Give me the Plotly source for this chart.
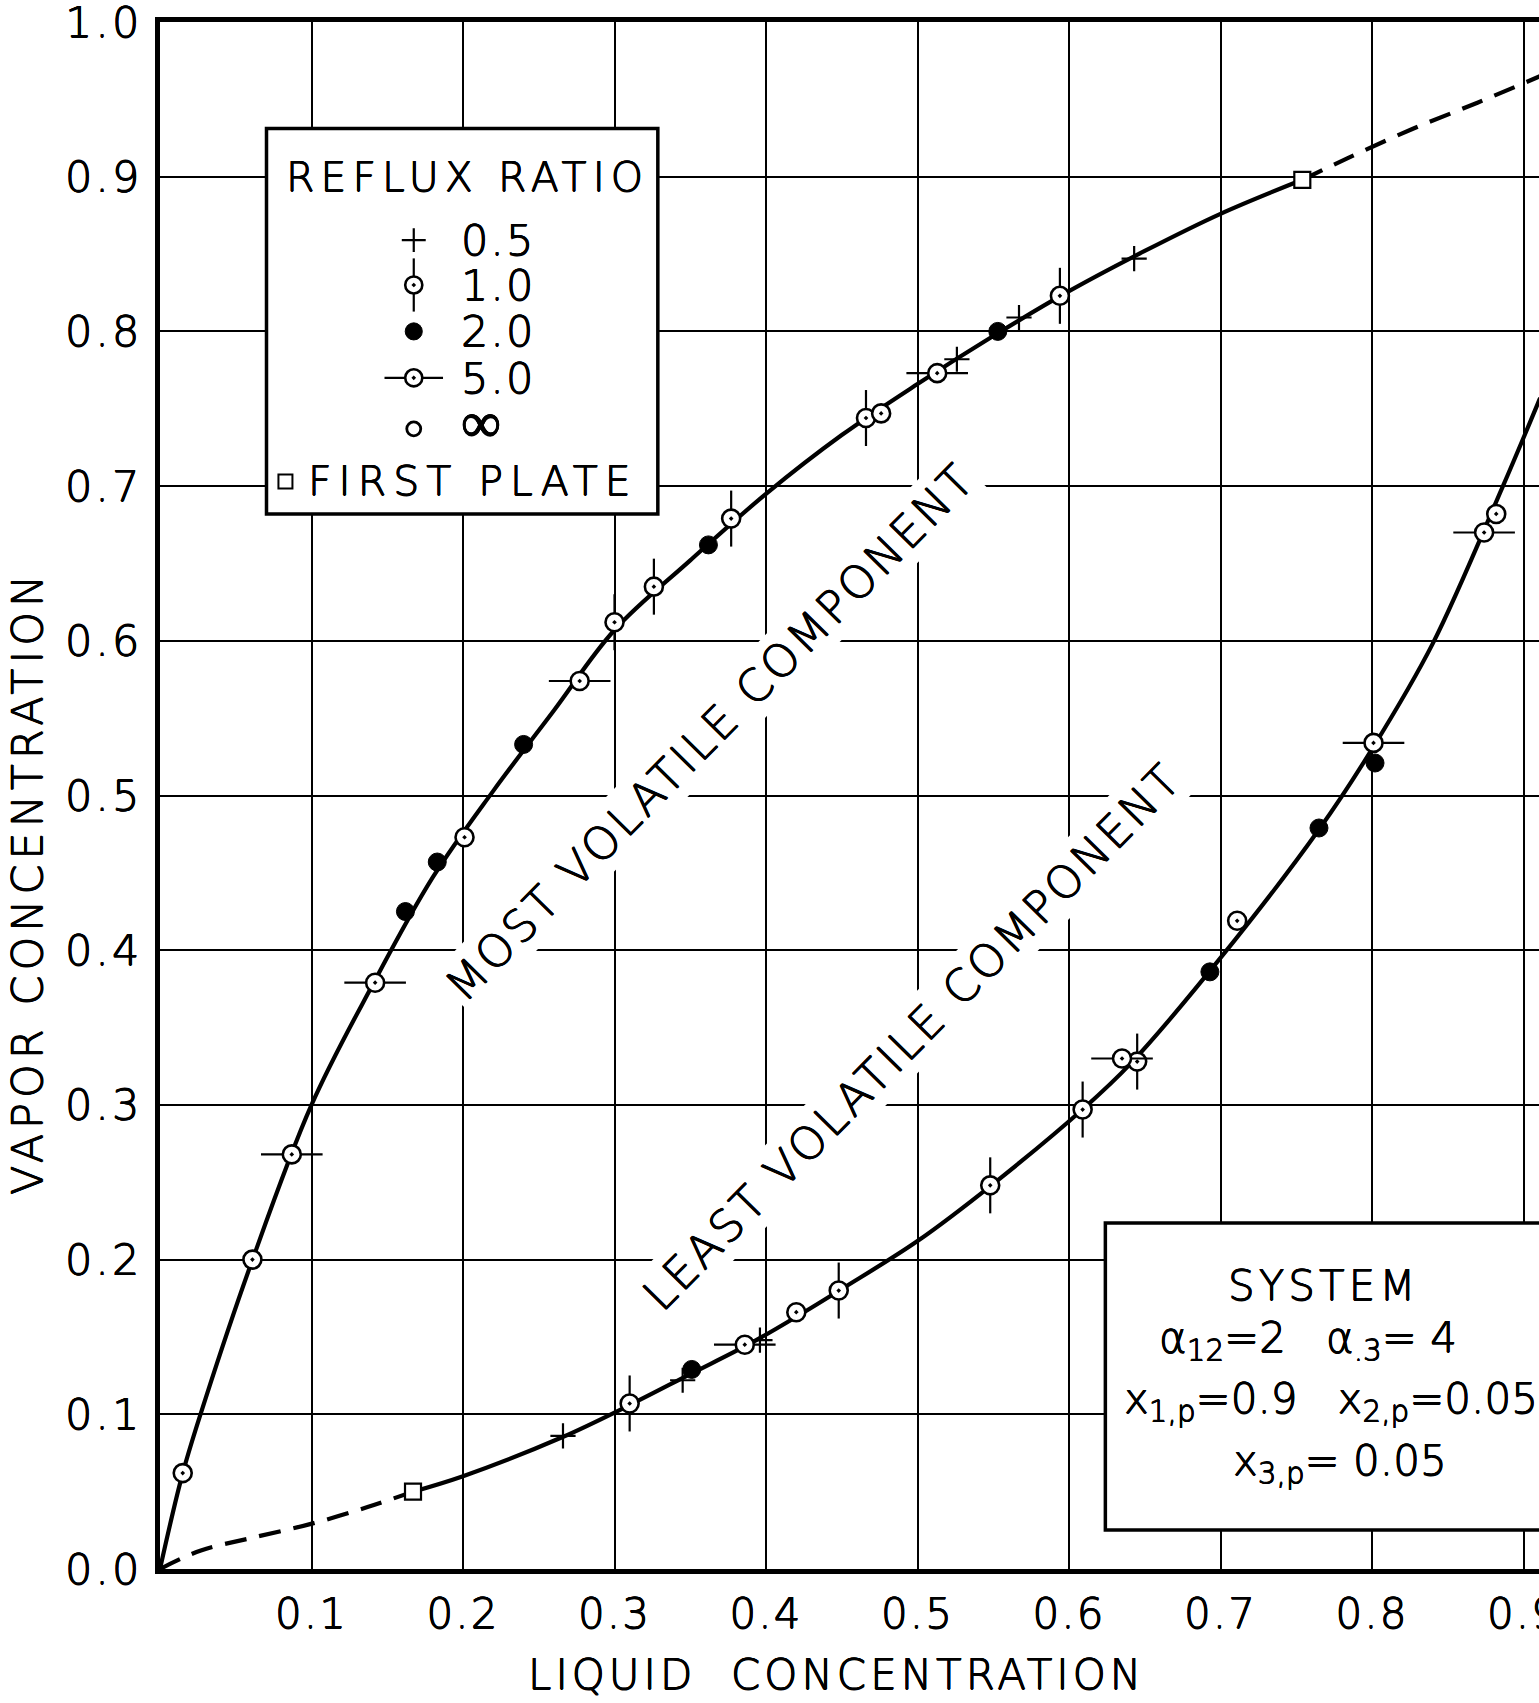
import plotly.graph_objects as go

FONT = "DejaVu Sans"
INK = "black"
WEIGHT = 300
# slight stroke thickening for the light lettering
SHADOW = "0.5px 0 0 black, -0.5px 0 0 black, 0 0.5px 0 black, 0 -0.5px 0 black"

# ---------------- plate compositions ----------------
# most volatile component (liquid x, vapour y, reflux ratio of the run)
mvc_x = [0.015, 0.061, 0.087, 0.142, 0.162, 0.183, 0.201, 0.240, 0.277, 0.300, 0.326,
         0.362, 0.377, 0.466, 0.476, 0.513, 0.526, 0.553, 0.567, 0.594, 0.643, 0.754]
mvc_y = [0.062, 0.200, 0.268, 0.379, 0.425, 0.457, 0.473, 0.533, 0.574, 0.612, 0.635,
         0.662, 0.679, 0.744, 0.747, 0.773, 0.782, 0.800, 0.809, 0.823, 0.847, 0.898]
mvc_r = ["inf", "inf", "5.0", "5.0", "2.0", "2.0", "inf", "2.0", "5.0", "1.0", "1.0",
         "2.0", "1.0", "1.0", "inf", "5.0", "0.5", "2.0", "0.5", "1.0", "0.5", "plate"]

# least volatile component
lvc_x = [0.167, 0.266, 0.310, 0.345, 0.351, 0.386, 0.396, 0.420, 0.448, 0.548,
         0.609, 0.635, 0.645, 0.693, 0.711, 0.765, 0.802, 0.801, 0.874, 0.882]
lvc_y = [0.050, 0.086, 0.107, 0.122, 0.129, 0.145, 0.148, 0.166, 0.180, 0.248,
         0.297, 0.330, 0.328, 0.386, 0.419, 0.479, 0.521, 0.534, 0.670, 0.682]
lvc_r = ["plate", "0.5", "1.0", "0.5", "2.0", "5.0", "0.5", "inf", "1.0", "1.0",
         "1.0", "5.0", "1.0", "2.0", "inf", "2.0", "2.0", "5.0", "5.0", "inf"]

# ---------------- smooth equilibrium curves ----------------
mvc_curve_x = [0.0, 0.015, 0.03, 0.06, 0.10, 0.14, 0.18, 0.22, 0.26, 0.30, 0.35,
               0.40, 0.45, 0.50, 0.55, 0.60, 0.65, 0.70, 0.754]
mvc_curve_y = [0.0, 0.062, 0.110, 0.197, 0.300, 0.377, 0.447, 0.503, 0.555, 0.607, 0.652,
               0.695, 0.733, 0.766, 0.797, 0.826, 0.852, 0.876, 0.898]
# extrapolated beyond the first plate
mvc_ext_x = [0.754, 0.784, 0.827, 0.870, 0.911]
mvc_ext_y = [0.898, 0.912, 0.931, 0.948, 0.965]

lvc_ext_x = [0.0, 0.027, 0.060, 0.099, 0.137, 0.167]
lvc_ext_y = [0.0, 0.012, 0.020, 0.029, 0.040, 0.050]
lvc_curve_x = [0.167, 0.20, 0.265, 0.31, 0.35, 0.39, 0.42, 0.45, 0.50, 0.55, 0.61,
               0.64, 0.70, 0.765, 0.80, 0.84, 0.886, 0.911]
lvc_curve_y = [0.050, 0.060, 0.085, 0.106, 0.126, 0.146, 0.163, 0.181, 0.212, 0.249, 0.298,
               0.326, 0.395, 0.478, 0.530, 0.598, 0.699, 0.757]

# ---------------- axes ----------------
x_ticks = [0.1, 0.2, 0.3, 0.4, 0.5, 0.6, 0.7, 0.8, 0.9]
x_tick_text = ["0.1", "0.2", "0.3", "0.4", "0.5", "0.6", "0.7", "0.8", "0.9"]
y_ticks = [0.0, 0.1, 0.2, 0.3, 0.4, 0.5, 0.6, 0.7, 0.8, 0.9, 1.0]
y_tick_text = ["0.0", "0.1", "0.2", "0.3", "0.4", "0.5", "0.6", "0.7", "0.8", "0.9", "1.0"]

# legend entries
legend_keys = ["0.5", "1.0", "2.0", "5.0", "inf"]
legend_text = ["0.5", "1.0", "2.0", "5.0", "∞"]

W, H = 1539, 1703
ML, MR, MT, MB = 160, 0, 22, 134
X_MAX = (W - ML - MR) / 1515.0
Y_MAX = 1.0


def spaced(txt, px):
    """Letter-spaced lettering."""
    return f'<span style="letter-spacing:{px}px">{txt}</span>'


def font(size):
    return dict(family=FONT, size=size, color=INK, weight=WEIGHT, shadow=SHADOW)


# marker layers drawn for each reflux ratio (bottom to top)
def layers(key, scale=1.0):
    circ = dict(symbol="circle-dot", size=18 * scale, color="white",
                line=dict(color=INK, width=2.6))
    if key == "0.5":
        return [dict(symbol="cross-thin", size=18 * scale, line=dict(color=INK, width=2.2))]
    if key == "1.0":
        return [dict(symbol="line-ns", size=40 * scale, line=dict(color=INK, width=2.2)), circ]
    if key == "2.0":
        return [dict(symbol="circle", size=18 * scale, color=INK, line=dict(color=INK, width=1))]
    if key == "5.0":
        return [dict(symbol="line-ew", size=44 * scale, line=dict(color=INK, width=2.2)), circ]
    if key == "inf":
        return [circ]
    return [dict(symbol="square", size=16 * scale, color="white",
                 line=dict(color=INK, width=2.2))]


fig = go.Figure()

# curves
for cx, cy, dash in [(mvc_curve_x, mvc_curve_y, "solid"), (mvc_ext_x, mvc_ext_y, "22px,13px"),
                     (lvc_ext_x, lvc_ext_y, "22px,13px"), (lvc_curve_x, lvc_curve_y, "solid")]:
    fig.add_trace(go.Scatter(x=cx, y=cy, mode="lines", hoverinfo="skip",
                             line=dict(color=INK, width=4.2, shape="spline", dash=dash)))

# plate points, grouped by reflux ratio and drawn in layers
all_x = mvc_x + lvc_x
all_y = mvc_y + lvc_y
all_r = mvc_r + lvc_r
order = ["0.5", "1.0", "5.0", "2.0", "inf", "plate"]
for key in order:
    px = [x for x, r in zip(all_x, all_r) if r == key]
    py = [y for y, r in zip(all_y, all_r) if r == key]
    for m in layers(key):
        fig.add_trace(go.Scatter(x=px, y=py, mode="markers", marker=m, hoverinfo="skip"))

# ---------------- legend box ----------------
LEG_X0, LEG_X1, LEG_Y0, LEG_Y1 = 0.0703, 0.3286, 0.6819, 0.9311
KEY_X, TEXT_X = 0.1675, 0.1975
ROW_Y = [0.859, 0.830, 0.800, 0.770, 0.742]
PLATE_ROW_Y = 0.703
fig.add_shape(type="rect", xref="x", yref="y", x0=LEG_X0, x1=LEG_X1, y0=LEG_Y0, y1=LEG_Y1,
              fillcolor="white", line=dict(color=INK, width=3.5), layer="between")
for key, label, ry in zip(legend_keys, legend_text, ROW_Y):
    for m in layers(key, 0.95):
        if key == "inf":
            m = dict(symbol="circle", size=14, color="white", line=dict(color=INK, width=2.8))
        fig.add_trace(go.Scatter(x=[KEY_X], y=[ry if key != "inf" else 0.737], mode="markers",
                                 marker=m, hoverinfo="skip"))
    fig.add_annotation(x=TEXT_X, y=ry, xref="x", yref="y", text=spaced(label, 2),
                       showarrow=False, xanchor="left", yanchor="middle",
                       font=font(43 if key != "inf" else 56))
fig.add_trace(go.Scatter(x=[0.0828], y=[PLATE_ROW_Y], mode="markers", hoverinfo="skip",
                         marker=dict(symbol="square", size=14, color="white",
                                     line=dict(color=INK, width=2))))
fig.add_annotation(x=0.0965, y=PLATE_ROW_Y, xref="x", yref="y", text=spaced("FIRST PLATE", 7),
                   showarrow=False, xanchor="left", yanchor="middle", font=font(41))
fig.add_annotation(x=0.203, y=0.900, xref="x", yref="y", text=spaced("REFLUX RATIO", 6),
                   showarrow=False, xanchor="center", yanchor="middle", font=font(41))

# ---------------- system box ----------------
fig.add_shape(type="rect", xref="x", yref="y", x0=0.624, x1=1.2, y0=0.0252, y1=0.2236,
              fillcolor="white", line=dict(color=INK, width=3.5), layer="between")
system_lines = [
    (spaced("SYSTEM", 4), 0.768, 0.1834),
    ("α<sub>12</sub>=2   α<sub>.3</sub>= 4", 0.758, 0.148),
    ("x<sub>1,p</sub>=0.9   x<sub>2,p</sub>=0.05", 0.773, 0.108),
    ("x<sub>3,p</sub>= 0.05", 0.779, 0.068),
]
for txt, tx, ty in system_lines:
    fig.add_annotation(x=tx, y=ty, xref="x", yref="y", text=txt, showarrow=False,
                       xanchor="center", yanchor="middle", font=font(42))

# ---------------- curve labels ----------------
fig.add_annotation(x=0.363, y=0.541, xref="x", yref="y",
                   text=spaced("MOST VOLATILE COMPONENT", 3),
                   showarrow=False, textangle=-45.5, bgcolor="white", borderpad=2, font=font(45))
fig.add_annotation(x=0.497, y=0.344, xref="x", yref="y",
                   text=spaced("LEAST VOLATILE COMPONENT", 3),
                   showarrow=False, textangle=-45.5, bgcolor="white", borderpad=2, font=font(45))

# axis titles
fig.add_annotation(x=0.4465, y=-0.068, xref="x", yref="paper",
                   text=spaced("LIQUID  CONCENTRATION", 4),
                   showarrow=False, xanchor="center", yanchor="middle", font=font(42))
fig.add_annotation(x=-0.0964, y=0.4435, xref="paper", yref="y",
                   text=spaced("VAPOR CONCENTRATION", 5),
                   showarrow=False, textangle=-90, xanchor="center", yanchor="middle",
                   font=font(43))

fig.update_layout(
    width=W, height=H,
    margin=dict(l=ML, r=MR, t=MT, b=MB, autoexpand=False),
    paper_bgcolor="white", plot_bgcolor="white",
    showlegend=False,
    xaxis=dict(range=[0, X_MAX], tickvals=x_ticks, ticktext=[spaced(t, 2) for t in x_tick_text],
               showgrid=True, gridcolor=INK, gridwidth=1.6, zeroline=False,
               showline=True, linecolor=INK, linewidth=5, mirror=True, automargin=False,
               ticks="", ticklabelstandoff=4, ticklabeloverflow="allow",
               tickfont=font(42), fixedrange=True),
    yaxis=dict(range=[0, Y_MAX], tickvals=y_ticks, ticktext=[spaced(t, 3) for t in y_tick_text],
               showgrid=True, gridcolor=INK, gridwidth=1.6, zeroline=False,
               showline=True, linecolor=INK, linewidth=5, automargin=False,
               ticks="", ticklabelstandoff=4, ticklabeloverflow="allow",
               tickfont=font(43), fixedrange=True),
)

fig.write_html("out.html")
